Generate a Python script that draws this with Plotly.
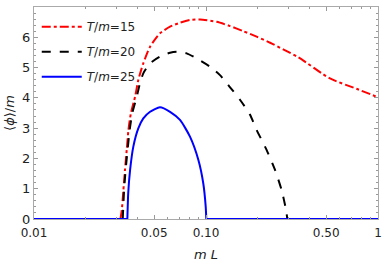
import plotly.graph_objects as go

# T/m = 15 (red, dash-dot); None separates the flat zero branch from the curved branch
red_x = [0.01, 0.0318, None, 0.0318, 0.0324, 0.0331, 0.0338, 0.0346, 0.0354, 0.0366, 0.0387, 0.0404, 0.0432,
         0.0473, 0.0540, 0.0618, 0.0706, 0.0807, 0.0923, 0.1154, 0.138, 0.165, 0.197,
         0.236, 0.281, 0.344, 0.526, 0.75, 1.0]
red_y = [0, 0, None, 0, 0.30, 0.96, 1.62, 2.28, 2.94, 3.50, 4.04, 4.59, 5.14,
         5.69, 6.13, 6.35, 6.48, 6.57, 6.59, 6.51, 6.37, 6.20, 6.02,
         5.82, 5.60, 5.34, 4.64, 4.30, 4.02]

# T/m = 20 (black, dashed)
black_x = [0.01, 0.0328, None, 0.0328, 0.0334, 0.0341, 0.0350, 0.0360, 0.0373, 0.0396, 0.0413, 0.0432, 0.0473,
           0.0540, 0.0618, 0.0676, 0.0772, 0.0883, 0.1055, 0.1206, 0.138, 0.158, 0.180,
           0.197, 0.225, 0.252, 0.275, 0.292, 0.297, None, 0.297, 1.0]
black_y = [0, 0, None, 0, 0.96, 1.62, 2.28, 2.94, 3.50, 4.04, 4.48, 4.81, 5.14,
           5.36, 5.49, 5.52, 5.47, 5.30, 5.03, 4.75, 4.35, 3.93, 3.45,
           2.94, 2.28, 1.62, 0.96, 0.30, 0, None, 0, 0]

# T/m = 25 (blue, solid)
blue_x = [0.01, 0.0349, None, 0.0349, 0.0353, 0.0362, 0.0378, 0.0404, 0.0432, 0.0473, 0.0540, 0.0618,
          0.0706, 0.0807, 0.0903, 0.0964, 0.0996, 0.1004, None, 0.1004, 1.0]
blue_y = [0, 0, None, 0, 0.85, 1.62, 2.39, 2.99, 3.32, 3.54, 3.69, 3.54,
          3.27, 2.72, 1.95, 1.18, 0.41, 0, None, 0, 0]

labels = ["<i>T</i>/<i>m</i>=15", "<i>T</i>/<i>m</i>=20", "<i>T</i>/<i>m</i>=25"]

x_major = [0.01, 0.05, 0.1, 0.5, 1]
x_major_text = ["0.01", "0.05", "0.10", "0.50", "1"]
x_minor = [0.02, 0.03, 0.04, 0.06, 0.07, 0.08, 0.09, 0.2, 0.3, 0.4, 0.6, 0.7, 0.8, 0.9]

fig = go.Figure()
fig.add_trace(go.Scatter(x=red_x, y=red_y, mode="lines", name=labels[0], legendgroup="a",
                         line=dict(color="#ff0000", width=2, dash="dashdot", shape="spline", smoothing=0.6)))
fig.add_trace(go.Scatter(x=black_x, y=black_y, mode="lines", name=labels[1], legendgroup="b",
                         line=dict(color="#000000", width=2, dash="dash", shape="spline", smoothing=0.6)))
fig.add_trace(go.Scatter(x=blue_x, y=blue_y, mode="lines", name=labels[2], legendgroup="c",
                         line=dict(color="#0000ff", width=2, shape="spline", smoothing=0.6)))
# invisible trace to carry minor x ticks
fig.add_trace(go.Scatter(x=[0.01, 1], y=[0, 0], xaxis="x2", mode="lines",
                         line=dict(width=0), showlegend=False, hoverinfo="skip"))

font = "DejaVu Sans, sans-serif"
fig.update_layout(
    width=382, height=263,
    margin=dict(l=34, r=4, t=7, b=44),
    paper_bgcolor="white", plot_bgcolor="white",
    font=dict(family=font, size=12, color="#222"),
    showlegend=True,
    legend=dict(x=0.008, y=0.975, xanchor="left", yanchor="top", traceorder="grouped",
                bgcolor="rgba(0,0,0,0)", font=dict(size=12, color="#222"),
                itemwidth=40, tracegroupgap=6),
    xaxis=dict(type="log", range=[-2, 0], tickvals=x_major, ticktext=x_major_text,
               automargin=False, ticklabelstandoff=3,
               showgrid=False, zeroline=False, showline=True, mirror="ticks",
               linecolor="#aaaaaa", linewidth=1, ticks="inside", ticklen=4,
               tickcolor="#999999", tickfont=dict(size=12, color="#222"),
               title=dict(text="<i>m</i> <i>L</i>", font=dict(size=13, color="#222"), standoff=10)),
    xaxis2=dict(type="log", range=[-2, 0], overlaying="x", side="bottom", automargin=False,
                tickvals=x_minor, ticktext=[""] * len(x_minor), showgrid=False,
                zeroline=False, showline=False, ticks="inside", ticklen=2,
                tickcolor="#999999", mirror="ticks"),
    yaxis=dict(range=[0, 7], dtick=1, showgrid=False, zeroline=False, showline=True,
               automargin=False,
               mirror="ticks", linecolor="#aaaaaa", linewidth=1, ticks="inside",
               ticklen=4, tickcolor="#999999", tickfont=dict(size=13, color="#222"),
               minor=dict(ticks="inside", ticklen=2, dtick=0.2, tickcolor="#999999"),
               title=dict(text="⟨<i>ϕ</i>⟩/<i>m</i>", font=dict(size=13, color="#222"), standoff=4)),
)

fig.write_html("out.html", config={"displayModeBar": False},
               post_script="document.body.style.margin='0';document.body.style.overflow='hidden';")
